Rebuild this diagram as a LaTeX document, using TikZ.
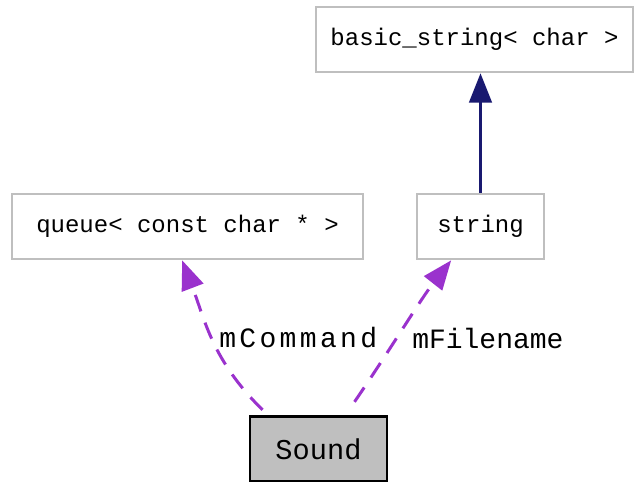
\documentclass[tikz,border=0pt]{standalone}
\usepackage{fontspec}
\setmonofont{Liberation Mono}
\usetikzlibrary{arrows.meta}
\definecolor{edgeblue}{HTML}{191970}
\definecolor{edgepurple}{HTML}{9A32CD}
\definecolor{boxgray}{HTML}{BFBFBF}
\tikzset{
    classbox/.style={draw=boxgray,line width=2pt,fill=white,inner sep=0pt,
        minimum height=48.75pt,font=\ttfamily\fontsize{18}{21}\selectfont},
    mainbox/.style={classbox,draw=black,fill=boxgray,font=\ttfamily\fontsize{21.5}{24}\selectfont},
    inherit/.style={-{Triangle[length=22pt,width=17pt]},line width=2pt,edgeblue},
    usage/.style={-{Triangle[length=22pt,width=17pt]},line width=2.25pt,edgepurple,
        dash pattern=on 13pt off 9pt},
    elabel/.style={font=\ttfamily\fontsize{21}{24}\selectfont,inner sep=0pt,anchor=west}
}
\begin{document}
\begin{tikzpicture}[x=0.75pt,y=-0.75pt]
    \useasboundingbox (0,0) rectangle (634,481);

    % classes
    \node[classbox,minimum width=237.75pt] (basicstr) at (474.5,39.5) {basic\_string< char >};
    \node[classbox,minimum width=95.25pt] (str) at (480.5,226.5) {string};
    \node[classbox,minimum width=263.25pt] (queue) at (187.5,226.5) {queue< const char * >};
    \node[mainbox,minimum width=102.75pt] (sound) at (318.5,449) {Sound};

    % inheritance
    \draw[inherit] (str.north) -- (str.north |- basicstr.south);

    % members
    \draw[usage] ([xshift=-42pt,yshift=4pt]sound.north) .. controls (212,360) and (205,320) .. ([xshift=-4pt]queue.south);
    \draw[usage] ([xshift=27pt,yshift=10pt]sound.north) .. controls (390,350) and (420,300) .. ([xshift=-22pt]str.south);
    \node[elabel] (lcmd) at (219,338) {\addfontfeatures{LetterSpace=12}mCommand};
    \node[elabel] (lfile) at (412,338) {mFilename};
\end{tikzpicture}
\end{document}
